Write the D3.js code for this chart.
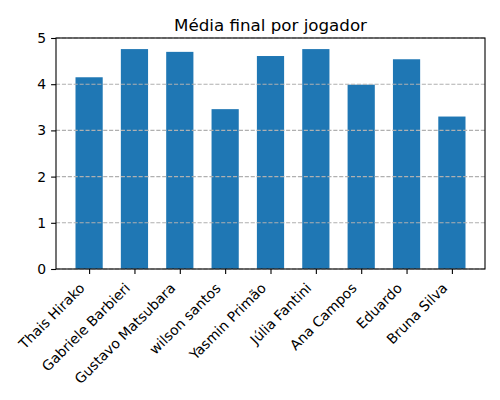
<!DOCTYPE html>
<html>
<head>
<meta charset="utf-8">
<script src="https://cdn.jsdelivr.net/npm/d3@7"></script>
<style>
  body { margin: 0; background: #fff; }
  text { font-family: "DejaVu Sans", sans-serif; fill: #000; }
</style>
</head>
<body>
<svg id="chart"></svg>
<script>
// data
var players = ["Thais Hirako", "Gabriele Barbieri", "Gustavo Matsubara", "wilson santos",
               "Yasmin Primão", "Júlia Fantini", "Ana Campos", "Eduardo", "Bruna Silva"];
var medias = [4.15, 4.76, 4.70, 3.46, 4.61, 4.76, 3.99, 4.54, 3.30];
var yTicks = [0, 1, 2, 3, 4, 5];
var title = "Média final por jogador";

var svgWidth = 500, svgHeight = 400;
var plotLeft = 56, plotRight = 485, plotTop = 38, plotBottom = 269;
var barW = 0.6;

var svg = d3.select("#chart")
    .attr("width", svgWidth)
    .attr("height", svgHeight);

var x = d3.scaleLinear()
    .domain([-0.3 - 0.43, players.length - 1 + 0.3 + 0.43])
    .range([plotLeft, plotRight]);

var y = d3.scaleLinear()
    .domain([0, 5])
    .range([plotBottom, plotTop]);

// bars
svg.append("g")
    .selectAll("rect")
    .data(medias)
    .enter()
    .append("rect")
    .attr("x", function(d, i) { return x(i - barW / 2); })
    .attr("width", function(d, i) { return x(i + barW / 2) - x(i - barW / 2); })
    .attr("y", function(d) { return y(d); })
    .attr("height", function(d) { return y(0) - y(d); })
    .style("fill", "#1f77b4");

// grid, drawn on top of bars like the original
svg.append("g")
    .selectAll("line")
    .data(yTicks)
    .enter()
    .append("line")
    .attr("x1", plotLeft)
    .attr("x2", plotRight)
    .attr("y1", function(d) { return y(d); })
    .attr("y2", function(d) { return y(d); })
    .style("stroke", "#b0b0b0")
    .style("stroke-width", 1.1)
    .style("stroke-dasharray", "4.1,1.8");

// y axis
var y_axis = d3.axisLeft(y)
    .tickValues(yTicks)
    .tickFormat(d3.format("d"))
    .tickSize(4.9)
    .tickPadding(4.9);

var gy = svg.append("g")
    .attr("transform", "translate(" + plotLeft + ",0)")
    .call(y_axis);
gy.select(".domain").remove();
gy.selectAll("text").style("font-size", "13.9px").style("font-family", "DejaVu Sans");
gy.selectAll("line").style("stroke-width", 1.1);

// x axis
var x_axis = d3.axisBottom(x)
    .tickValues(d3.range(players.length))
    .tickFormat(function(d) { return players[d]; })
    .tickSize(4.9);

var gx = svg.append("g")
    .attr("transform", "translate(0," + plotBottom + ")")
    .call(x_axis);
gx.select(".domain").remove();
gx.selectAll("line").style("stroke-width", 1.1);
gx.selectAll("text")
    .style("font-size", "13.9px")
    .style("font-family", "DejaVu Sans")
    .attr("text-anchor", "end")
    .attr("dy", null)
    .attr("y", null)
    .attr("transform", "translate(-4,20) rotate(-45)");

// frame
svg.append("rect")
    .attr("x", plotLeft)
    .attr("y", plotTop)
    .attr("width", plotRight - plotLeft)
    .attr("height", plotBottom - plotTop)
    .style("fill", "none")
    .style("stroke", "#000")
    .style("stroke-width", 1.1);

svg.append("text")
    .attr("x", (plotLeft + plotRight) / 2)
    .attr("y", 31)
    .attr("text-anchor", "middle")
    .style("font-size", "16.7px")
    .text(title);
</script>
</body>
</html>
